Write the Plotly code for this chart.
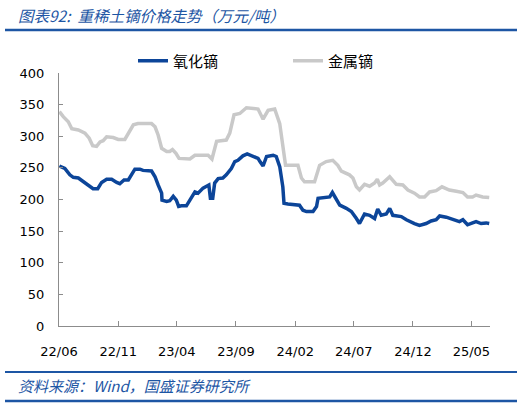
#!/usr/bin/env python3
'''
heavy rare earth dysprosium price trend, oxide vs metal (10k yuan / t).
'''
import plotly.graph_objects as go

OUT_HTML = 'out.html'

W, H = 526, 416
M_L, M_R, M_T, M_B = 59, 36, 73, 90

##
# data

oxide_dates = [
    '2022-06-02', '2022-06-16', '2022-06-29', '2022-07-08', '2022-07-21', '2022-08-03',
    '2022-08-20', '2022-08-28', '2022-09-09', '2022-09-19', '2022-10-02', '2022-10-15',
    '2022-10-28', '2022-11-05', '2022-11-16', '2022-11-27', '2022-12-05', '2022-12-14',
    '2022-12-27', '2023-01-04', '2023-01-26', '2023-02-04', '2023-02-12', '2023-02-21',
    '2023-02-22', '2023-03-06', '2023-03-14', '2023-03-23', '2023-03-31', '2023-04-06',
    '2023-04-13', '2023-04-26', '2023-05-05', '2023-05-18', '2023-05-26', '2023-06-08',
    '2023-06-17', '2023-06-23', '2023-06-27', '2023-07-03', '2023-07-08', '2023-07-17',
    '2023-07-29', '2023-08-07', '2023-08-20', '2023-08-29', '2023-09-06', '2023-09-19',
    '2023-09-30', '2023-10-15', '2023-10-28', '2023-11-02', '2023-11-10', '2023-11-19',
    '2023-12-06', '2023-12-14', '2023-12-23', '2023-12-31', '2024-01-03', '2024-01-13',
    '2024-02-12', '2024-02-21', '2024-03-01', '2024-03-18', '2024-03-27', '2024-03-31',
    '2024-04-13', '2024-04-30', '2024-05-07', '2024-05-17', '2024-05-26', '2024-06-12',
    '2024-06-25', '2024-07-08', '2024-07-16', '2024-07-29', '2024-08-11', '2024-08-24',
    '2024-09-01', '2024-09-10', '2024-09-23', '2024-10-02', '2024-10-10', '2024-11-01',
    '2024-11-14', '2024-12-05', '2024-12-18', '2025-01-04', '2025-01-17', '2025-01-30',
    '2025-02-08', '2025-02-25', '2025-03-14', '2025-03-31', '2025-04-09', '2025-04-21',
    '2025-05-04', '2025-05-13', '2025-05-26', '2025-06-08', '2025-06-16',
]
oxide_price = [
    253, 249, 239, 235, 234, 228,
    220, 217, 217, 227, 232, 232,
    227, 225, 231, 231, 239, 248,
    248, 246, 245, 236, 223, 210,
    199, 197, 198, 205, 199, 189,
    190, 190, 199, 212, 210, 218,
    221, 223, 202, 202, 226, 233,
    234, 239, 249, 260, 262, 269,
    272, 268, 265, 260, 253, 268,
    270, 268, 252, 220, 194, 193,
    191, 183, 181, 181, 189, 202,
    203, 204, 211, 199, 191, 186,
    181, 170, 162, 177, 175, 170,
    185, 175, 177, 186, 175, 173,
    168, 162, 159, 162, 166, 168,
    174, 172, 169, 165, 168, 160,
    163, 165, 162, 163, 162,
]

metal_dates = [
    '2022-06-02', '2022-06-12', '2022-06-25', '2022-07-04', '2022-07-21', '2022-08-07',
    '2022-08-18', '2022-08-27', '2022-09-06', '2022-09-15', '2022-09-23', '2022-10-02',
    '2022-10-19', '2022-11-01', '2022-11-18', '2022-11-27', '2022-12-10', '2022-12-22',
    '2023-01-26', '2023-02-04', '2023-02-12', '2023-02-21', '2023-03-06', '2023-03-14',
    '2023-03-21', '2023-03-30', '2023-04-07', '2023-05-05', '2023-05-18', '2023-06-21',
    '2023-07-01', '2023-07-13', '2023-08-07', '2023-08-16', '2023-08-27', '2023-09-11',
    '2023-09-28', '2023-10-28', '2023-11-10', '2023-11-23', '2023-12-10', '2023-12-23',
    '2023-12-31', '2024-01-07', '2024-02-08', '2024-02-17', '2024-02-25', '2024-03-22',
    '2024-04-04', '2024-04-21', '2024-05-08', '2024-05-21', '2024-05-30', '2024-06-20',
    '2024-06-29', '2024-07-08', '2024-07-16', '2024-07-29', '2024-08-11', '2024-08-24',
    '2024-08-31', '2024-09-06', '2024-09-14', '2024-10-02', '2024-10-19', '2024-11-05',
    '2024-11-18', '2024-12-05', '2024-12-18', '2024-12-31', '2025-01-13', '2025-01-30',
    '2025-02-14', '2025-03-05', '2025-03-23', '2025-04-09', '2025-04-21', '2025-05-04',
    '2025-05-13', '2025-05-30', '2025-06-16',
]
metal_price = [
    339, 331, 323, 312, 310, 305,
    297, 285, 284, 291, 293, 299,
    298, 295, 295, 305, 318, 320,
    320, 315, 302, 281, 276, 276,
    279, 273, 265, 264, 270, 270,
    264, 292, 294, 305, 334, 336,
    345, 343, 327, 341, 343, 320,
    289, 254, 254, 234, 228, 228,
    254, 260, 262, 254, 245, 239,
    234, 220, 215, 224, 221, 226,
    232, 223, 226, 236, 224, 223,
    215, 210, 204, 204, 212, 214,
    220, 215, 213, 211, 204, 204,
    207, 204, 203,
]

tick_dates = ['2022-06-01', '2022-11-01', '2023-04-01', '2023-09-01',
              '2024-02-01', '2024-07-01', '2024-12-01', '2025-05-01']
tick_labels = ['22/06', '22/11', '23/04', '23/09', '24/02', '24/07', '24/12', '25/05']

NAMES = ['氧化镝', '金属镝']
BLUE = '#0C4599'
GREY = '#C9C9C9'
AXIS = '#8C8C8C'
DEEP = '#1D56A4'
CJK = 'Noto Sans CJK SC'

# the page body comes with an 8px margin; drop it so the figure sits at 0,0
NO_BODY_MARGIN = "document.body.style.margin = '0';"


def px_x(x):
    # page pixel -> paper x
    return (x - M_L) / (W - M_L - M_R)


def px_y(y):
    # page pixel -> paper y
    return (H - M_B - y) / (H - M_T - M_B)


def main():
    fig = go.Figure()
    # grey first so the blue line sits on top
    fig.add_trace(go.Scatter(x=metal_dates, y=metal_price, name=NAMES[1], mode='lines',
                             line=dict(color=GREY, width=3.5)))
    fig.add_trace(go.Scatter(x=oxide_dates, y=oxide_price, name=NAMES[0], mode='lines',
                             line=dict(color=BLUE, width=3.5)))

    fig.update_xaxes(type='date', range=['2022-06-01', '2025-06-18'],
                     tickvals=tick_dates, ticktext=tick_labels,
                     ticks='inside', ticklen=5, tickcolor=AXIS,
                     showline=True, linecolor=AXIS, linewidth=1,
                     showgrid=False, zeroline=False, ticklabelstandoff=13,
                     automargin=False,
                     tickfont=dict(family='DejaVu Sans', size=13, color='#000'))
    fig.update_yaxes(range=[0, 400], dtick=50,
                     ticks='inside', ticklen=4, tickcolor=AXIS,
                     showline=True, linecolor=AXIS, linewidth=1,
                     showgrid=False, zeroline=False, ticklabelstandoff=11,
                     automargin=False,
                     tickfont=dict(family='DejaVu Sans', size=13, color='#000'))

    annotations = [
        dict(text='<i>图表92:  重稀土镝价格走势（万元/吨）</i>', xref='paper', yref='paper',
             x=px_x(16), y=px_y(15), xanchor='left', yanchor='middle', showarrow=False,
             font=dict(family=CJK, size=15.5, color=DEEP)),
        dict(text='<i>资料来源：Wind，国盛证券研究所</i>', xref='paper', yref='paper',
             x=px_x(16), y=px_y(385), xanchor='left', yanchor='middle', showarrow=False,
             font=dict(family=CJK, size=15, color=DEEP)),
    ]

    # header / footer rules: shapes, backed by filled empty annotations
    # (the shapes did not always show up in the screenshot)
    shapes = []
    for y, w in [(30, 2.5), (372, 2), (401, 2.5)]:
        shapes.append(dict(type='line', xref='paper', yref='paper',
                           x0=px_x(5), x1=px_x(517), y0=px_y(y), y1=px_y(y),
                           line=dict(color=DEEP, width=w)))
        annotations.append(dict(text=' ', xref='paper', yref='paper',
                                x=px_x(261), y=px_y(y), xanchor='center', yanchor='middle',
                                width=512, height=round(w), borderpad=0, borderwidth=0,
                                bgcolor=DEEP, showarrow=False, font=dict(size=1)))

    fig.update_layout(
        width=W, height=H,
        margin=dict(l=M_L, r=M_R, t=M_T, b=M_B, autoexpand=False),
        plot_bgcolor='white', paper_bgcolor='white',
        shapes=shapes, annotations=annotations,
        legend=dict(orientation='h', xref='container', yref='container',
                    x=133 / W, y=1 - 61 / H, xanchor='left', yanchor='middle',
                    traceorder='reversed', entrywidth=110, entrywidthmode='pixels',
                    font=dict(family=CJK, size=15, color='#000'), bgcolor='rgba(0,0,0,0)'),
        showlegend=True,
    )
    fig.write_html(OUT_HTML, post_script=NO_BODY_MARGIN,
                   config={'displayModeBar': False})
    print('figure saved at {}'.format(OUT_HTML))


if __name__ == '__main__':
    main()
